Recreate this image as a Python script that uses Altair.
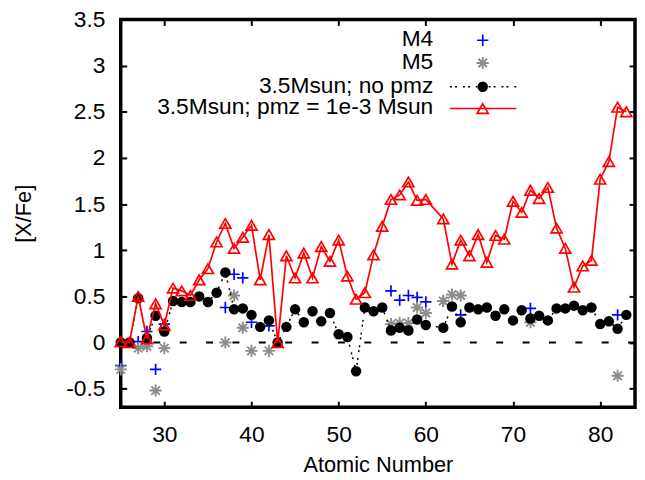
import altair as alt
import pandas as pd

# ---------------- data ----------------
z_model = list(range(25, 61)) + list(range(62, 84))
nopmz = [0.0, 0.0, 0.48, 0.05, 0.29, 0.12, 0.45, 0.44, 0.44, 0.50, 0.44, 0.54,
         0.76, 0.36, 0.37, 0.30, 0.17, 0.24, 0.0, 0.17, 0.36, 0.22, 0.34, 0.23,
         0.32, 0.09, 0.06, -0.31, 0.38, 0.34, 0.38, 0.13, 0.16, 0.13, 0.25, 0.19,
         0.16, 0.39, 0.22, 0.38, 0.36, 0.38, 0.29, 0.36, 0.24, 0.35, 0.26, 0.29,
         0.24, 0.37, 0.37, 0.40, 0.35, 0.38, 0.20, 0.23, 0.15, 0.30]
pmz = [0.01, 0.0, 0.50, 0.04, 0.42, 0.19, 0.59, 0.56, 0.51, 0.68, 0.80, 1.09,
       1.29, 1.02, 1.14, 1.27, 0.68, 1.17, 0.0, 0.94, 0.70, 0.97, 0.70, 1.04,
       0.88, 1.11, 0.72, 0.47, 0.54, 0.95, 1.26, 1.55, 1.60, 1.74, 1.54, 1.55,
       1.34, 0.85, 1.11, 0.94, 1.17, 0.87, 1.16, 1.12, 1.53, 1.41, 1.65, 1.56,
       1.68, 1.24, 1.02, 0.60, 0.83, 0.89, 1.77, 1.96, 2.55, 2.50]

z_m4 = [25, 27, 28, 29, 30, 37, 38, 39, 40, 42, 56, 57, 58, 59, 60, 62, 64, 72, 82]
m4 = [-0.25, 0.01, 0.12, -0.29, 0.20, 0.38, 0.74, 0.70, 0.22, 0.18,
      0.56, 0.46, 0.51, 0.49, 0.44, 0.45, 0.30, 0.37, 0.30]

z_m5 = [25, 27, 28, 29, 30, 37, 38, 39, 40, 42, 56, 57, 58, 59, 60, 62, 63, 64, 72, 82]
m5 = [-0.29, -0.06, -0.04, -0.52, -0.06, 0.0, 0.51, 0.16, -0.09, -0.09,
      0.20, 0.21, 0.21, 0.38, 0.32, 0.45, 0.52, 0.51, 0.22, -0.36]

legend_labels = ["M4", "M5", "3.5Msun; no pmz", "3.5Msun; pmz = 1e-3 Msun"]
x_ticks = [30, 40, 50, 60, 70, 80]
y_ticks = [-0.5, 0, 0.5, 1, 1.5, 2, 2.5, 3, 3.5]

# ---------------- styling ----------------
FONT = "Liberation Sans"
FS_LAB = 23
FS_TITLE = 22
W, H = 520, 392
BLUE, GRAY, BLACK, RED = "#0000ff", "#8c8c8c", "#000000", "#ff0000"
PLUS = "M-1,0L1,0M0,-1L0,1"
STAR = "M-1,0L1,0M0,-1L0,1M-0.7,-0.7L0.7,0.7M-0.7,0.7L0.7,-0.7"
DOTS = [2, 3, 2, 6]

xs = alt.Scale(domain=[25, 84], nice=False, zero=False)
ys = alt.Scale(domain=[-0.7, 3.5], nice=False, zero=False)

df_model = pd.DataFrame({"Z": z_model, "nopmz": nopmz, "pmz": pmz})
df_m4 = pd.DataFrame({"Z": z_m4, "v": m4})
df_m5 = pd.DataFrame({"Z": z_m5, "v": m5})
one = pd.DataFrame({"a": [0]})


def tick_axis(orient):
    return alt.Axis(orient=orient, values=x_ticks if orient in ("top", "bottom") else y_ticks,
                    labels=False, domain=False, ticks=True, tickSize=6, tickWidth=2,
                    tickColor=BLACK, offset=-6, title=None, grid=False)


label_x_axis = alt.Axis(orient="bottom", values=x_ticks, ticks=False, domain=False,
                        labelFont=FONT, labelFontSize=FS_LAB, labelColor=BLACK, labelPadding=17,
                        labelFlush=False, labelOverlap=False, grid=False,
                        title="Atomic Number", titleFont=FONT, titleFontSize=FS_TITLE,
                        titleFontWeight="normal", titleColor=BLACK, titleY=65,
                        titleBaseline="alphabetic")
label_y_axis = alt.Axis(orient="left", values=y_ticks, ticks=False, domain=False,
                        labelFont=FONT, labelFontSize=FS_LAB, labelColor=BLACK, labelPadding=16,
                        labelFlush=False, labelOverlap=False, grid=False,
                        labelExpr="'' + datum.value",
                        title="[X/Fe]", titleFont=FONT, titleFontSize=FS_TITLE,
                        titleFontWeight="normal", titleColor=BLACK, titleX=-91, titleY=H / 2,
                        titleAngle=270, titleAlign="center", titleBaseline="alphabetic")

zero_line = alt.Chart(one).mark_rule(color=BLACK, strokeWidth=2, strokeDash=[7, 19.67]).encode(
    y=alt.YDatum(0, type="quantitative", scale=ys, axis=None)
)

m4_layer = alt.Chart(df_m4).mark_point(shape=PLUS, size=130, filled=False, stroke=BLUE,
                                       strokeWidth=1.7, opacity=1).encode(
    x=alt.X("Z:Q", scale=xs, axis=tick_axis("bottom")),
    y=alt.Y("v:Q", scale=ys, axis=tick_axis("left")),
)
m5_layer = alt.Chart(df_m5).mark_point(shape=STAR, size=150, filled=False, stroke=GRAY,
                                       strokeWidth=1.9, opacity=1).encode(
    x=alt.X("Z:Q", scale=xs, axis=tick_axis("top")),
    y=alt.Y("v:Q", scale=ys, axis=tick_axis("right")),
)
black_line = alt.Chart(df_model).mark_line(color=BLACK, strokeWidth=1.5, strokeDash=DOTS).encode(
    x=alt.X("Z:Q", scale=xs, axis=None),
    y=alt.Y("nopmz:Q", scale=ys, axis=None),
)
black_pts = alt.Chart(df_model).mark_point(shape="circle", size=112, filled=True, color=BLACK,
                                           opacity=1).encode(
    x=alt.X("Z:Q", scale=xs, axis=label_x_axis),
    y=alt.Y("nopmz:Q", scale=ys, axis=label_y_axis),
)
red_line = alt.Chart(df_model).mark_line(color=RED, strokeWidth=1.7).encode(
    x=alt.X("Z:Q", scale=xs, axis=None),
    y=alt.Y("pmz:Q", scale=ys, axis=None),
)
red_pts = alt.Chart(df_model).mark_point(shape="triangle-up", size=125, filled=False, stroke=RED,
                                         strokeWidth=1.7, opacity=1).encode(
    x=alt.X("Z:Q", scale=xs, axis=None),
    y=alt.Y("pmz:Q", scale=ys, axis=None),
)

# ---------------- key (top right, text left of sample) ----------------
LEG_TX, LEG_SX, LEG_L0, LEG_L1 = 316, 366, 333, 400
LEG_Y = [21, 44, 68, 90]
key = []
for i, lab in enumerate(legend_labels):
    key.append(alt.Chart(pd.DataFrame({"t": [lab]})).mark_text(
        align="right", baseline="middle", font=FONT, fontSize=FS_LAB, color=BLACK).encode(
        x=alt.value(LEG_TX), y=alt.value(LEG_Y[i] - 1), text="t:N"))
key.append(alt.Chart(one).mark_point(shape=PLUS, size=130, filled=False, stroke=BLUE,
                                     strokeWidth=1.7, opacity=1).encode(
    x=alt.value(LEG_SX), y=alt.value(LEG_Y[0])))
key.append(alt.Chart(one).mark_point(shape=STAR, size=150, filled=False, stroke=GRAY,
                                     strokeWidth=1.9, opacity=1).encode(
    x=alt.value(LEG_SX), y=alt.value(LEG_Y[1])))
key.append(alt.Chart(one).mark_rule(color=BLACK, strokeWidth=1.5, strokeDash=DOTS).encode(
    x=alt.value(LEG_L0), x2=alt.value(LEG_L1), y=alt.value(LEG_Y[2])))
key.append(alt.Chart(one).mark_point(shape="circle", size=112, filled=True, color=BLACK,
                                     opacity=1).encode(
    x=alt.value(LEG_SX), y=alt.value(LEG_Y[2])))
key.append(alt.Chart(one).mark_rule(color=RED, strokeWidth=1.7).encode(
    x=alt.value(LEG_L0), x2=alt.value(LEG_L1), y=alt.value(LEG_Y[3])))
key.append(alt.Chart(one).mark_point(shape="triangle-up", size=125, filled=False, stroke=RED,
                                     strokeWidth=1.7, opacity=1).encode(
    x=alt.value(LEG_SX), y=alt.value(LEG_Y[3])))

chart = alt.layer(
    zero_line, m4_layer, m5_layer, black_line, black_pts, red_line, red_pts, *key
).resolve_axis(
    x="independent", y="independent"
).properties(
    width=W, height=H,
    autosize=alt.AutoSizeParams(type="none"),
    padding={"left": 114, "top": 9, "right": 2, "bottom": 70},
    background="white",
).configure_view(
    stroke=BLACK, strokeWidth=3.5
).configure_axis(grid=False)

chart.save("out.html", embed_options={"renderer": "svg", "actions": False})
